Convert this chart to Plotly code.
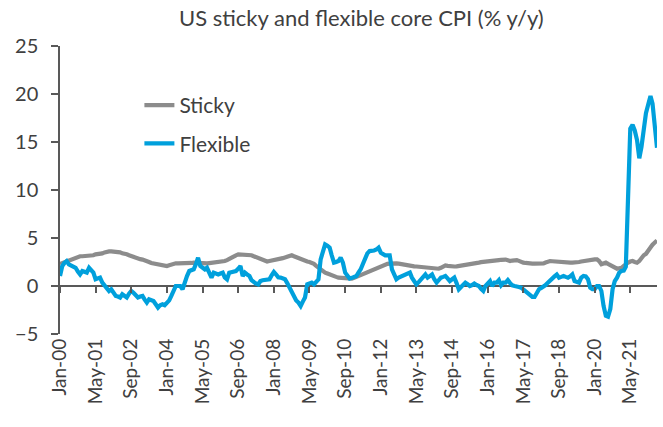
import pandas as pd
import plotly.graph_objects as go

# Monthly, Jan-2000 .. May-2022 (% y/y)
months = pd.date_range("2000-01-01", periods=269, freq="MS")

sticky = [
    # 2000
    2.3, 2.4, 2.5, 2.6, 2.7, 2.7, 2.8, 2.9, 3.0, 3.1, 3.1, 3.1,
    # 2001
    3.2, 3.2, 3.2, 3.2, 3.3, 3.3, 3.3, 3.4, 3.5, 3.6, 3.6, 3.6,
    # 2002
    3.6, 3.5, 3.5, 3.5, 3.4, 3.4, 3.3, 3.2, 3.1, 3.0, 2.95, 2.9,
    # 2003
    2.8, 2.75, 2.7, 2.6, 2.5, 2.4, 2.35, 2.3, 2.25, 2.2, 2.15, 2.1,
    # 2004
    2.08, 2.15, 2.25, 2.3, 2.36, 2.35, 2.35, 2.3, 2.3, 2.33, 2.35, 2.4,
    # 2005
    2.43, 2.4, 2.4, 2.35, 2.35, 2.33, 2.35, 2.38, 2.4, 2.43, 2.45, 2.5,
    # 2006
    2.55, 2.6, 2.6, 2.7, 2.85, 3.0, 3.1, 3.2, 3.3, 3.3, 3.3, 3.3,
    # 2007
    3.3, 3.25, 3.2, 3.1, 3.0, 2.85, 2.75, 2.65, 2.55, 2.55, 2.6, 2.67,
    # 2008
    2.7, 2.75, 2.78, 2.85, 2.9, 2.95, 3.05, 3.15, 3.2, 3.1, 3.0, 2.85,
    # 2009
    2.75, 2.7, 2.6, 2.55, 2.5, 2.43, 2.3, 2.1, 1.9, 1.7, 1.55, 1.39,
    # 2010
    1.3, 1.2, 1.04, 1.0, 0.95, 0.87, 0.85, 0.8, 0.77, 0.72, 0.72, 0.77,
    # 2011
    0.85, 0.95, 1.04, 1.15, 1.28, 1.39, 1.5, 1.6, 1.66, 1.75, 1.9, 2.0,
    # 2012
    2.1, 2.2, 2.26, 2.3, 2.33, 2.36, 2.36, 2.35, 2.33, 2.28, 2.22, 2.18,
    # 2013
    2.15, 2.1, 2.08, 2.05, 2.03, 2.0, 2.0, 1.98, 1.97, 1.95, 1.92, 1.9,
    # 2014
    1.88, 1.85, 1.8, 1.9, 2.05, 2.15, 2.1, 2.05, 2.0, 2.03, 2.05, 2.08,
    # 2015
    2.1, 2.12, 2.15, 2.18, 2.22, 2.26, 2.3, 2.35, 2.43, 2.48, 2.52, 2.57,
    # 2016
    2.58, 2.6, 2.62, 2.65, 2.67, 2.7, 2.73, 2.78, 2.75, 2.68, 2.6, 2.65,
    # 2017
    2.68, 2.7, 2.62, 2.5, 2.43, 2.4, 2.35, 2.33, 2.33, 2.33, 2.33, 2.35,
    # 2018
    2.36, 2.36, 2.45, 2.55, 2.6, 2.58, 2.55, 2.53, 2.52, 2.5, 2.5, 2.48,
    # 2019
    2.45, 2.43, 2.43, 2.43, 2.43, 2.5, 2.55, 2.6, 2.65, 2.7, 2.72, 2.75,
    # 2020
    2.78, 2.78, 2.6, 2.26, 2.3, 2.43, 2.3, 2.2, 2.08, 1.95, 1.8, 1.85,
    # 2021
    1.9, 2.1, 2.3, 2.43, 2.55, 2.6, 2.5, 2.43, 2.6, 2.95, 3.2, 3.35,
    # 2022
    3.6, 4.0, 4.3, 4.55, 4.75,
]

flexible = [
    # 2000
    1.04, 2.08, 2.4, 2.6, 2.26, 2.1, 2.0, 1.9, 1.5, 1.2, 1.56, 1.5,
    # 2001
    1.4, 1.9, 1.6, 1.4, 0.7, 0.8, 0.87, 0.35, 0.0, -0.3, -0.52, -0.34,
    # 2002
    -0.7, -1.04, -1.1, -1.2, -0.86, -1.0, -1.2, -0.8, -0.52, -0.7, -0.9, -1.2,
    # 2003
    -1.1, -1.04, -1.4, -1.73, -1.38, -1.5, -1.56, -1.9, -2.25, -2.0, -1.9, -2.0,
    # 2004
    -1.7, -1.5, -1.04, -0.5, 0.0, 0.0, 0.0, -0.35, 0.5, 1.04, 1.56, 1.65,
    # 2005
    1.74, 2.3, 2.95, 2.08, 1.9, 1.74, 1.9, 1.4, 0.87, 1.39, 1.3, 1.2,
    # 2006
    1.3, 1.39, 0.9, 0.7, 1.39, 1.45, 1.5, 1.56, 1.8, 2.08, 1.04, 1.39,
    # 2007
    1.2, 1.04, 0.6, 0.35, 0.25, 0.17, 0.52, 0.6, 0.65, 0.7, 0.7, 1.1,
    # 2008
    1.46, 1.2, 0.9, 0.87, 0.8, 0.7, 0.3, -0.17, -0.6, -1.04, -1.5, -1.73,
    # 2009
    -2.08, -1.6, -1.2, 0.17, 0.25, 0.35, 0.17, 0.5, 0.7, 2.78, 3.6, 4.33,
    # 2010
    4.2, 4.0, 3.2, 2.43, 2.5, 2.6, 2.95, 2.43, 1.39, 1.0, 0.77, 0.85,
    # 2011
    0.95, 1.04, 1.4, 1.74, 2.3, 2.95, 3.4, 3.64, 3.64, 3.7, 3.8, 4.0,
    # 2012
    3.47, 3.3, 3.2, 3.2, 3.2, 1.74, 1.2, 0.7, 0.87, 0.95, 1.04, 1.2,
    # 2013
    1.3, 1.39, 0.87, 0.5, 0.17, 0.4, 0.7, 1.0, 1.2, 0.87, 1.0, 1.2,
    # 2014
    0.7, 0.35, 0.6, 0.87, 0.95, 1.04, 0.8, 0.52, 0.7, 0.87, 0.3, -0.35,
    # 2015
    -0.1, 0.17, 0.35, 0.2, 0.0, 0.1, 0.25, 0.1, 0.0, -0.3, -0.52, 0.0,
    # 2016
    0.3, 0.52, 0.0, 0.35, 0.35, 0.62, 0.07, 0.35, 0.35, 0.62, 0.3, 0.07,
    # 2017
    0.0, 0.0, -0.1, -0.17, -0.35, -0.52, -0.7, -0.86, -1.14, -1.14, -0.69, -0.34,
    # 2018
    -0.2, -0.07, 0.1, 0.35, 0.6, 0.7, 1.0, 1.2, 0.87, 0.95, 1.04, 0.95,
    # 2019
    0.87, 1.0, 1.2, 0.52, 0.4, 0.35, 0.87, 1.04, 1.0, 0.7, -0.17, -0.34,
    # 2020
    -0.34, 0.0, 0.0, -0.52, -2.08, -3.1, -3.2, -2.4, -0.34, 0.5, 0.87, 1.39,
    # 2021
    1.56, 1.6, 2.0, 9.4, 16.4, 16.8, 16.2, 15.2, 13.3, 14.5, 16.2, 18.0,
    # 2022
    18.9, 19.8, 19.0, 17.0, 14.4,
]

series_names = ["Sticky", "Flexible"]
series_colors = ["#8C8C8C", "#00A0DC"]
title_text = "US sticky and flexible core CPI (% y/y)"
y_ticks = [-5, 0, 5, 10, 15, 20, 25]

assert len(sticky) == len(months) == len(flexible)

FONT = "Lato"
TXT = "#404040"
AX = "#595959"

fig = go.Figure()
for name, vals, col in zip(series_names, [sticky, flexible], series_colors):
    fig.add_trace(go.Scatter(
        x=months, y=vals, mode="lines", name=name,
        line=dict(color=col, width=4.2), legendgroup=name,
    ))

# helper trace so that the overlaying axis carrying the tick marks at y=0 is drawn
fig.add_trace(go.Scatter(x=[months[0]], y=[None], xaxis="x2", showlegend=False,
                         hoverinfo="skip", mode="lines"))

x_range = [months[0], months[-1]]

fig.update_layout(
    width=663, height=427,
    margin=dict(l=60, r=6, t=46, b=93, autoexpand=False),
    paper_bgcolor="white", plot_bgcolor="white",
    font=dict(family=FONT, color=TXT, size=20),
    title=dict(text=title_text, x=0.545, xanchor="center", y=0.957, yanchor="middle",
               font=dict(family=FONT, size=22, color=TXT)),
    showlegend=True,
    legend=dict(x=0.133, y=0.865, xanchor="left", yanchor="top",
                bgcolor="rgba(0,0,0,0)", font=dict(size=21, color=TXT),
                tracegroupgap=8, itemwidth=30),
    xaxis=dict(
        type="date", range=x_range,
        tick0="2000-01-01", dtick="M16", tickformat="%b-%y",
        tickangle=-90, ticks="", showline=False, showgrid=False, zeroline=False,
        tickfont=dict(size=19, color=TXT),
    ),
    xaxis2=dict(
        type="date", overlaying="x", anchor="free", position=5 / 30, side="bottom",
        range=x_range, matches="x",
        tick0="2000-01-01", dtick="M16",
        ticks="outside", ticklen=6, tickwidth=1.5, tickcolor=AX,
        showticklabels=False, showline=False, showgrid=False, zeroline=False,
    ),
    yaxis=dict(
        range=[-5, 25], tickvals=y_ticks, ticks="outside", ticklen=7, tickwidth=1.5,
        tickcolor=AX, showline=True, linecolor=AX, linewidth=1.5,
        showgrid=False, zeroline=True, zerolinecolor=AX, zerolinewidth=1.5,
        tickfont=dict(size=20, color=TXT), ticklabelstandoff=9,
    ),
)

fig.write_html("out.html", config={"displayModeBar": False},
               post_script="document.body.style.margin='0px';")
